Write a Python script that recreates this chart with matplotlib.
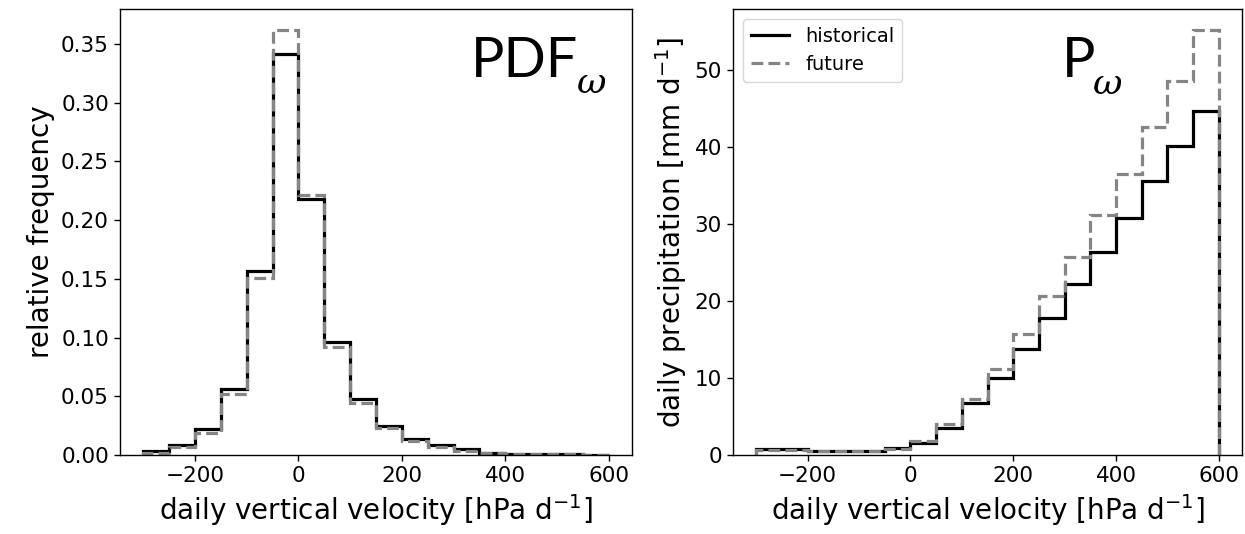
import numpy as np
import matplotlib
matplotlib.use('Agg')
import matplotlib.pyplot as plt

# bin edges of daily vertical velocity [hPa/d]
edges = np.arange(-300, 601, 50)

# relative frequency per bin
pdf_hist = [0.0036, 0.0085, 0.0218, 0.0565, 0.157, 0.341, 0.2175, 0.096, 0.0475,
            0.0248, 0.014, 0.0085, 0.0048, 0.002, 0.0012, 0.0008, 0.0005, 0.0003]
pdf_fut = [0.002, 0.0065, 0.019, 0.052, 0.151, 0.3615, 0.221, 0.092, 0.044,
           0.0226, 0.0116, 0.0065, 0.0037, 0.0018, 0.0011, 0.0007, 0.0005, 0.0003]

# mean daily precipitation per bin [mm/d]
pr_hist = [0.75, 0.75, 0.55, 0.55, 0.55, 0.85, 1.6, 3.5, 6.7, 10.0, 13.7, 17.8,
           22.2, 26.4, 30.8, 35.6, 40.1, 44.6]
pr_fut = [0.7, 0.7, 0.55, 0.55, 0.55, 0.8, 1.85, 4.0, 7.3, 11.2, 15.7, 20.6,
          25.7, 31.1, 36.5, 42.5, 48.5, 55.1]

fig = plt.figure(figsize=(12.45, 5.34), dpi=100)
ax1 = fig.add_axes([0.0964, 0.1479, 0.4112, 0.8352])
ax2 = fig.add_axes([0.5888, 0.1479, 0.4088, 0.8352])

for ax, h, f in [(ax1, pdf_hist, pdf_fut), (ax2, pr_hist, pr_fut)]:
    ax.stairs(h, edges, baseline=0, color='black', lw=2.3, label='historical')
    ax.stairs(f, edges, baseline=0, color='#858585', lw=2.3, ls='--', label='future')
    ax.set_xticks([-200, 0, 200, 400, 600])
    ax.tick_params(labelsize=15.5, length=4.5, width=1)
    ax.set_xlabel('daily vertical velocity [hPa d$^{-1}$]', fontsize=20)
    for s in ax.spines.values():
        s.set_linewidth(1.0)

ax1.set_ylabel('relative frequency', fontsize=20)
ax2.set_ylabel('daily precipitation [mm d$^{-1}$]', fontsize=20)
ax1.set_yticks(np.arange(0, 0.36, 0.05))
ax2.set_yticks([0, 10, 20, 30, 40, 50])
ax2.legend(loc='upper left', fontsize=14)

# panel titles
ax1.text(0.686, 0.8475, 'PDF', transform=ax1.transAxes, fontsize=40, family='Lato')
ax1.text(0.893, 0.812, 'ω', transform=ax1.transAxes, fontsize=26,
         family='DejaVu Serif', style='italic')
ax2.text(0.646, 0.848, 'P', transform=ax2.transAxes, fontsize=40, family='Lato')
ax2.text(0.707, 0.810, 'ω', transform=ax2.transAxes, fontsize=26,
         family='DejaVu Serif', style='italic')

fig.savefig('out.png', dpi=100)
